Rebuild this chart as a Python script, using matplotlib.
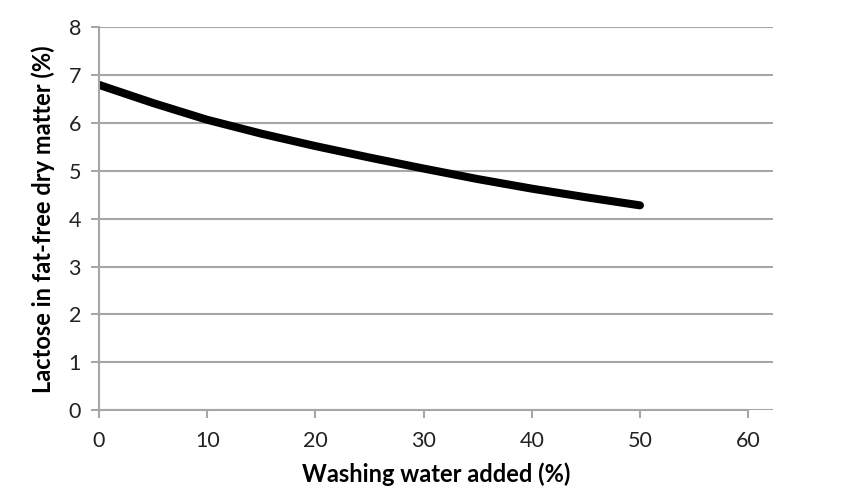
import matplotlib
matplotlib.use("Agg")
import matplotlib.pyplot as plt

# washing water added (%) vs lactose in fat-free dry matter (%)
water_added = [0, 5, 10, 15, 20, 25, 30, 35, 40, 45, 50]
lactose = [6.80, 6.42, 6.07, 5.78, 5.52, 5.28, 5.05, 4.83, 4.63, 4.45, 4.28]

x_ticks = [0, 10, 20, 30, 40, 50, 60]
y_ticks = [0, 1, 2, 3, 4, 5, 6, 7, 8]

plt.rcParams['font.family'] = ['Lato', 'DejaVu Sans']

fig = plt.figure(figsize=(8.52, 5.0), dpi=100)
ax = fig.add_axes([0.1162, 0.18, 0.7911, 0.765])

grid_col = '#a6a6a6'
ax.set_xlim(0, 62.3)
ax.set_ylim(0, 8)
ax.set_xticks(x_ticks)
ax.set_yticks(y_ticks)
ax.yaxis.grid(True, color=grid_col, linewidth=1.5)
ax.set_axisbelow(True)

for side in ['top', 'right']:
    ax.spines[side].set_visible(False)
for side in ['left', 'bottom']:
    ax.spines[side].set_color(grid_col)
    ax.spines[side].set_linewidth(1.5)
ax.spines['bottom'].set_bounds(0, 60)

ax.tick_params(axis='both', colors=grid_col, width=1.5, length=6,
               labelcolor='#222222', labelsize=15.5)
ax.tick_params(axis='x', pad=9)
ax.tick_params(axis='y', pad=7)

ax.plot(water_added, lactose, color='black', linewidth=5.8,
        solid_capstyle='round', solid_joinstyle='round')

ax.set_xlabel('Washing water added (%)', fontsize=17, fontweight='bold', labelpad=8)
ax.set_ylabel('Lactose in fat-free dry matter (%)', fontsize=17, fontweight='bold', labelpad=10)

fig.savefig('out.png', dpi=100)
